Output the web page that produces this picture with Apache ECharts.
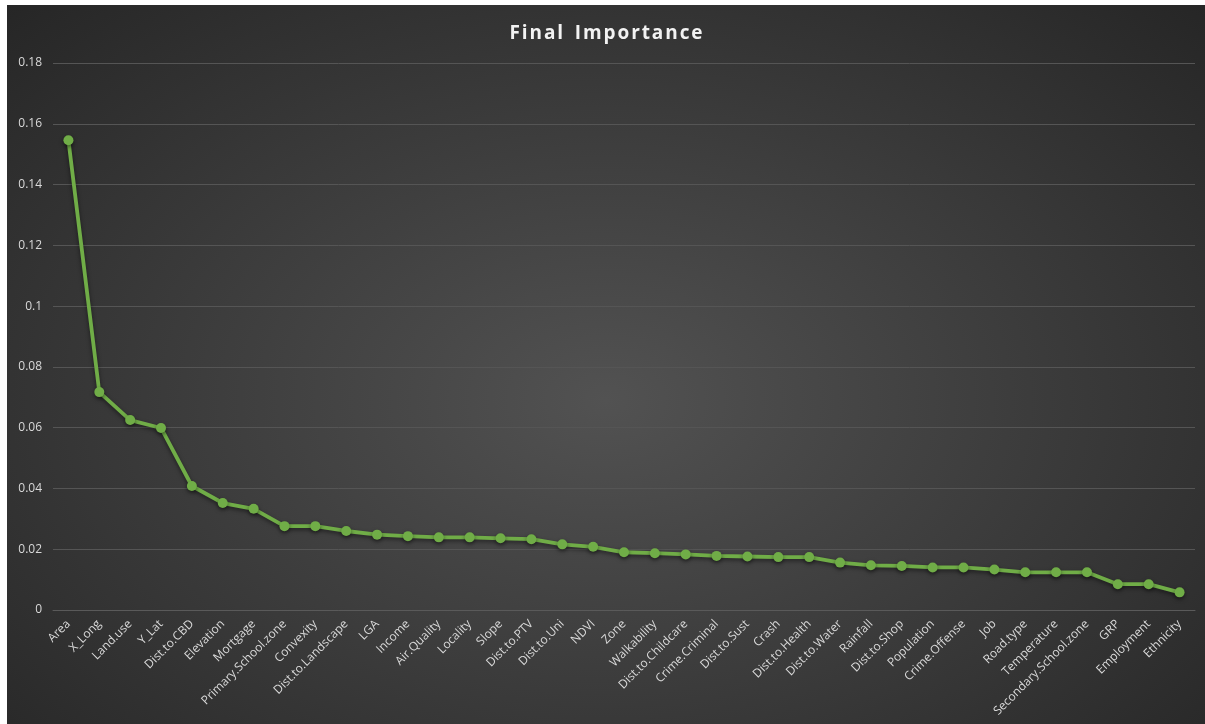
<!DOCTYPE html>
<html lang="en">
<head>
    <meta charset="UTF-8">
    <title>Final Importance</title>
    <script src="https://cdn.jsdelivr.net/npm/echarts@6/dist/echarts.min.js"></script>
    <style>
        html, body { margin: 0; padding: 0; background: #ffffff; }
        #chart {
            position: absolute; left: 7px; top: 5px;
            width: 1198px; height: 719px;
            background: radial-gradient(ellipse at 50% 55%, #525252 0%, #3c3c3c 50%, #262626 100%);
        }
    </style>
</head>
<body>
<div id="chart"></div>
<script type="text/javascript">
    // feature names, ordered by importance
    var features = ['Area', 'X_Long', 'Land.use', 'Y_Lat', 'Dist.to.CBD', 'Elevation', 'Mortgage',
        'Primary.School.zone', 'Convexity', 'Dist.to.Landscape', 'LGA', 'Income', 'Air.Quality',
        'Locality', 'Slope', 'Dist.to.PTV', 'Dist.to.Uni', 'NDVI', 'Zone', 'Walkability',
        'Dist.to.Childcare', 'Crime.Criminal', 'Dist.to.Sust', 'Crash', 'Dist.to.Health',
        'Dist.to.Water', 'Rainfall', 'Dist.to.Shop', 'Population', 'Crime.Offense', 'Job',
        'Road.type', 'Temperature', 'Secondary.School.zone', 'GRP', 'Employment', 'Ethnicity'];

    // importance values
    var importance = [0.1546, 0.0717, 0.0625, 0.0599, 0.0408, 0.0352, 0.0333,
        0.0276, 0.0276, 0.0260, 0.0248, 0.0243, 0.0239,
        0.0239, 0.0236, 0.0233, 0.0216, 0.0208, 0.0190, 0.0187,
        0.0183, 0.0178, 0.0176, 0.0174, 0.0174,
        0.0156, 0.0147, 0.0145, 0.0140, 0.0140, 0.0133,
        0.0124, 0.0124, 0.0124, 0.0085, 0.0085, 0.0058];

    var yTicks = { min: 0, max: 0.18, interval: 0.02 };

    var myChart = echarts.init(document.getElementById('chart'));

    var option = {
        backgroundColor: 'transparent',
        animation: false,
        title: {
            text: 'F i n a l   I m p o r t a n c e'.replace(/ (?! )/g, '\u200A').replace(/\u200A\u200A /g, '  '),
            left: 'center',
            top: 14,
            textStyle: {
                color: '#f2f2f2',
                fontFamily: 'Open Sans',
                fontWeight: 'bold',
                fontSize: 19
            }
        },
        grid: {
            left: 46,
            top: 58,
            width: 1142,
            height: 547,
            containLabel: false
        },
        xAxis: {
            type: 'category',
            data: features,
            boundaryGap: true,
            axisLine: { lineStyle: { color: '#5a5a5a', width: 1 } },
            axisTick: { show: false },
            axisLabel: {
                interval: 0,
                rotate: 45,
                margin: 12,
                color: '#d9d9d9',
                fontFamily: 'Open Sans',
                fontSize: 12
            }
        },
        yAxis: {
            type: 'value',
            min: yTicks.min,
            max: yTicks.max,
            interval: yTicks.interval,
            axisLine: { show: false },
            axisTick: { show: false },
            splitLine: { lineStyle: { color: '#555555', width: 1 } },
            axisLabel: {
                color: '#d9d9d9',
                fontFamily: 'Open Sans',
                fontSize: 12,
                margin: 11,
                formatter: function (v) {
                    return String(parseFloat(v.toFixed(2)));
                }
            }
        },
        series: [{
            name: 'Final Importance',
            type: 'line',
            data: importance,
            symbol: 'circle',
            symbolSize: 10,
            lineStyle: {
                color: '#70ad47',
                width: 3.8,
                shadowColor: 'rgba(0,0,0,0.5)',
                shadowBlur: 4,
                shadowOffsetY: 2
            },
            itemStyle: {
                color: '#70ad47',
                shadowColor: 'rgba(0,0,0,0.5)',
                shadowBlur: 4,
                shadowOffsetY: 2
            }
        }]
    };

    myChart.setOption(option);
</script>
</body>
</html>
